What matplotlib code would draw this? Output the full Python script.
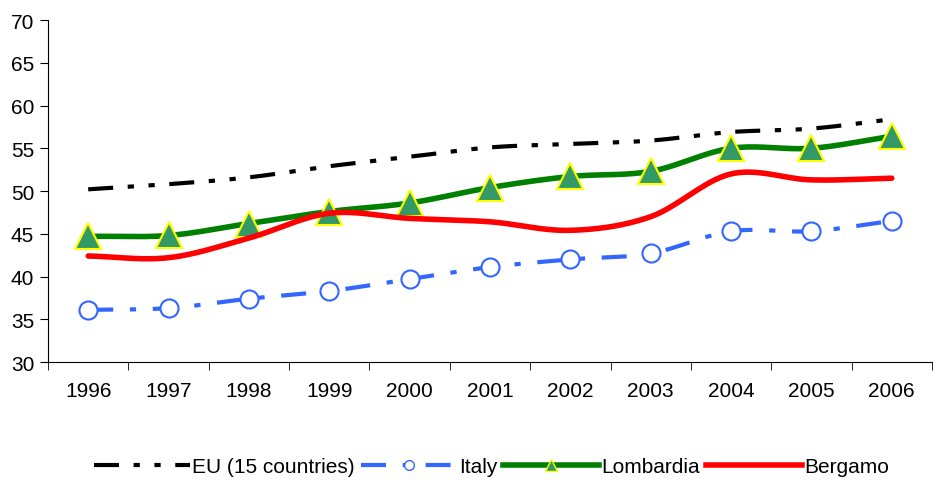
import numpy as np
import matplotlib
matplotlib.use("Agg")
import matplotlib.pyplot as plt
from matplotlib.lines import Line2D

plt.rcParams['font.family'] = ['Liberation Sans', 'DejaVu Sans']

years = ['1996', '1997', '1998', '1999', '2000', '2001', '2002', '2003', '2004', '2005', '2006']
eu15 = [50.2, 50.8, 51.6, 52.9, 54.0, 55.1, 55.5, 55.9, 56.9, 57.3, 58.4]
italy = [36.1, 36.3, 37.4, 38.3, 39.7, 41.1, 42.0, 42.7, 45.3, 45.3, 46.5]
lombardia = [44.7, 44.8, 46.2, 47.6, 48.6, 50.4, 51.7, 52.3, 55.0, 55.0, 56.4]
bergamo = [42.4, 42.2, 44.5, 47.4, 46.8, 46.4, 45.4, 47.0, 52.0, 51.3, 51.5]


def smooth(y, n=20):
    # catmull-rom like excel's smoothed line
    y = np.asarray(y, float)
    p = np.concatenate([[2*y[0]-y[1]], y, [2*y[-1]-y[-2]]])
    xs, ys = [], []
    for i in range(len(y)-1):
        t = np.linspace(0, 1, n, endpoint=False)
        p0, p1, p2, p3 = p[i], p[i+1], p[i+2], p[i+3]
        v = 0.5*((2*p1) + (-p0+p2)*t + (2*p0-5*p1+4*p2-p3)*t**2 + (-p0+3*p1-3*p2+p3)*t**3)
        xs.append(i+t)
        ys.append(v)
    xs.append([len(y)-1])
    ys.append([y[-1]])
    return np.concatenate(xs), np.concatenate(ys)


fig = plt.figure(figsize=(9.36, 4.81), dpi=100)
ax = fig.add_axes([0.0513, 0.2453, 0.9444, 0.711])
x = np.arange(len(years))

eu_dash = (0, (6, 3.5, 1.5, 3.5, 1.5, 3.5))
it_dash = (0, (6, 4, 1.5, 4))

xs, ys = smooth(eu15)
ax.plot(xs, ys, color='black', lw=3, ls=eu_dash, solid_capstyle='butt')
xs, ys = smooth(italy)
ax.plot(xs, ys, color='#3366FF', lw=3, ls=it_dash)
ax.plot(x, italy, ls='none', marker='o', ms=13, mfc='white', mec='#3366FF', mew=1.5)
xs, ys = smooth(lombardia)
ax.plot(xs, ys, color='#008000', lw=4)
ax.plot(x, lombardia, ls='none', marker='^', ms=19, mfc='#339966', mec='#FFFF00', mew=1.5)
xs, ys = smooth(bergamo)
ax.plot(xs, ys, color='#FF0000', lw=4, solid_capstyle='round')

ax.set_xlim(-0.5, len(years)-0.5)
ax.set_ylim(30, 70)
ax.set_yticks(np.arange(30, 71, 5))
ax.set_xticks(x)
ax.set_xticklabels(years)
ax.set_xticks(np.arange(-0.5, len(years), 1), minor=True)
ax.tick_params(axis='x', which='major', length=0, pad=14, labelsize=15)
ax.tick_params(axis='x', which='minor', length=6, direction='out')
ax.tick_params(axis='y', length=6, labelsize=15, pad=4)
for s in ['top', 'right']:
    ax.spines[s].set_visible(False)

handles = [
    Line2D([], [], color='black', lw=3, ls=eu_dash),
    Line2D([], [], color='#3366FF', lw=3, ls=it_dash, marker='o', ms=7, mfc='white', mec='#3366FF', markevery=[1]),
    Line2D([], [], color='#008000', lw=4, marker='^', ms=9, mfc='#339966', mec='#FFFF00', markevery=[1]),
    Line2D([], [], color='#FF0000', lw=4),
]
for h in handles:
    h.set_xdata([0, 0.5, 1])
labels = ['EU (15 countries)', 'Italy', 'Lombardia', 'Bergamo']
fig.legend(handles, labels, loc='center', bbox_to_anchor=(0.525, 0.028), ncol=4,
           frameon=False, fontsize=15, handlelength=4.6, handletextpad=0.1,
           columnspacing=0.3)

fig.savefig('out.png', dpi=100)
